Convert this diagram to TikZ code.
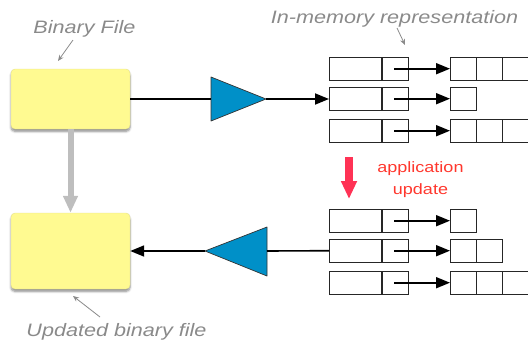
\documentclass[tikz,border=0pt]{standalone}
\usepackage{fontspec}
\setmainfont{Liberation Sans}
\newfontfamily\labelfont[FakeStretch=1.2]{Liberation Sans}
\usetikzlibrary{arrows.meta,shadows.blur}

\definecolor{fileyellow}{RGB}{255,250,145}
\definecolor{ampblue}{RGB}{0,144,200}
\definecolor{notegray}{RGB}{138,138,138}
\definecolor{flowgray}{RGB}{190,190,190}
\definecolor{updred}{RGB}{255,50,85}
\definecolor{updtext}{RGB}{255,55,45}

\tikzset{
  filebox/.style={rectangle, rounded corners=4pt, fill=fileyellow,
    draw=fileyellow!80!gray, line width=0.4pt, inner sep=0pt,
    blur shadow={shadow xshift=0pt, shadow yshift=-2.5pt,
      shadow blur steps=6, shadow opacity=45}},
  cellbox/.style={rectangle, draw=black!85, line width=0.9pt, inner sep=0pt,
    anchor=north west, minimum height=22.5pt},
  keycell/.style={cellbox, minimum width=52pt},
  ptrcell/.style={cellbox, minimum width=26pt},
  valcell/.style={cellbox, minimum width=26pt},
  ptr/.style={line width=1.8pt, -{Triangle[length=14pt,width=11pt]}},
  wire/.style={line width=1.6pt},
  amp/.style={fill=ampblue, draw=black!80, line width=0.7pt, line join=round},
  note/.style={notegray, line width=0.8pt, -{Stealth[length=6pt,width=5pt]}},
  notetext/.style={text=notegray, font=\labelfont\itshape\fontsize{18}{20}\selectfont,
    inner sep=0pt, anchor=base},
  flow/.style={flowgray, line width=6pt, -{Triangle[length=17pt,width=14pt]}},
  update/.style={updred, line width=8pt, -{Triangle[length=18pt,width=15pt]}},
}

\begin{document}
\begin{tikzpicture}[x=1pt,y=-1pt]
\useasboundingbox (0,0) rectangle (528,341);
\clip (0,0) rectangle (528,341);

% files on disk
\node[filebox, minimum width=119pt, minimum height=60pt] (bin) at (70.5,99) {};
\node[filebox, minimum width=119pt, minimum height=76pt] (newbin) at (70.5,251) {};
\draw[flow] (bin.south) -- (newbin.north);

% in-memory records before the update
\foreach \r/\y/\n in {1/57/3, 2/87/1, 3/119/3} {
  \node[keycell] (mk\r) at (329,\y) {};
  \node[ptrcell] (mp\r) at (mk\r.north east) {};
  \foreach \c in {1,...,\n} {
    \node[valcell] (mv\r\c) at ({450+26*(\c-1)},\y) {};
  }
  \draw[ptr] ([xshift=-1pt]mp\r.center) -- (mv\r1.west);
}

% in-memory records after the update
\foreach \r/\y/\n in {1/209/1, 2/239/2, 3/271/3} {
  \node[keycell] (uk\r) at (329,\y) {};
  \node[ptrcell] (up\r) at (uk\r.north east) {};
  \foreach \c in {1,...,\n} {
    \node[valcell] (uv\r\c) at ({450+26*(\c-1)},\y) {};
  }
  \draw[ptr] ([xshift=-1pt]up\r.center) -- (uv\r1.west);
}

% loading: file -> amplifier -> records
\coordinate (ldin) at (211,99);
\coordinate (ldout) at (266,99);
\draw[amp] (211,77) -- (ldout) -- (211,121) -- cycle;
\draw[wire] (bin.east) -- (ldin);
\draw[ptr] (ldout) -- (mk2.west |- ldout);

% saving: records -> amplifier -> updated file
\coordinate (svin) at (267,251);
\coordinate (svout) at (205,251);
\draw[amp] (267,227) -- (svout) -- (267,276) -- cycle;
\draw[wire] (uk2.west) -- (svin);
\draw[ptr] (svout) -- (newbin.east);

% application update
\coordinate (upa) at (349,157);
\coordinate (upb) at (349,199);
\draw[update] (upa) -- (upb);
\node[text=updtext, font=\labelfont\fontsize{15}{21.5}\selectfont, align=center,
  inner sep=0pt, anchor=base] (updlbl) at (420.5,194) {application\\update};

% annotations
\node[notetext] (binlbl) at (84.5,33) {Binary File};
\coordinate (binfrom) at (73,40);
\draw[note] (binfrom) -- (58,61);

\node[notetext] (memlbl) at (394.5,23) {In-memory representation};
\coordinate (memfrom) at (397,28);
\draw[note] (memfrom) -- (405,45);

\node[notetext] (newlbl) at (116.5,336.5) {Updated binary file};
\coordinate (newfrom) at (100,317);
\draw[note] (newfrom) -- (73,296);
\end{tikzpicture}
\end{document}
